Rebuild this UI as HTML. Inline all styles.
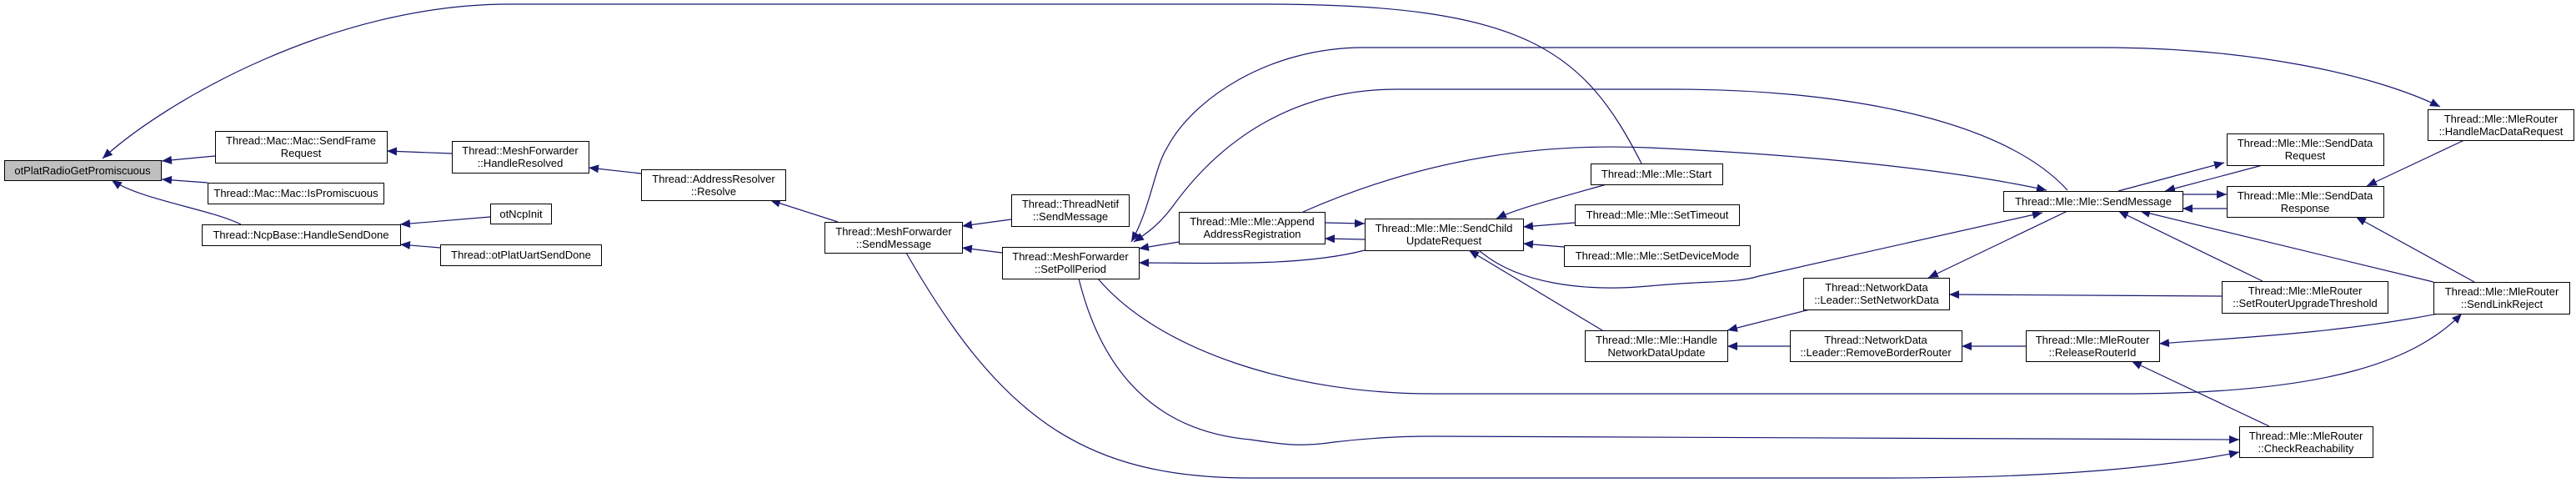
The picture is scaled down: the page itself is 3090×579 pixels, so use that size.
<!DOCTYPE html>
<html><head><meta charset="utf-8"><style>
html,body{margin:0;padding:0;background:#fff}
svg{display:block}
text{font-family:"Liberation Sans",sans-serif;font-size:13px;fill:#000}
</style></head><body>
<svg width="3090" height="579" viewBox="0 0 3090 579" xmlns="http://www.w3.org/2000/svg">
<defs>
<marker id="a" markerUnits="userSpaceOnUse" markerWidth="14" markerHeight="12" refX="12" refY="5" orient="auto">
<polygon points="0,0 12,5 0,10" fill="#191970"/>
</marker>
<marker id="s" markerUnits="userSpaceOnUse" markerWidth="14" markerHeight="12" refX="0" refY="5" orient="auto">
<polygon points="12,0 0,5 12,10" fill="#191970"/>
</marker>
</defs>
<g fill="none" stroke="#191970" stroke-width="1.2" marker-end="url(#a)">
<path d="M1969,196 C1900,60 1830,5 1518,5 L611,5 C400,5 200,120 123,190"/>
<path d="M258,187 L194,193"/>
<path d="M249,219 L194,215"/>
<path d="M289,269 C250,250 170,240 134,216"/>
<path d="M542,184 L464,181"/>
<path d="M769,208 L706,201"/>
<path d="M1005,266 L924,240"/>
<path d="M1213,263 L1154,271"/>
<path d="M1202,303 L1154,297"/>
<path d="M588,260 L480,269"/>
<path d="M528,297 L480,293"/>
<path marker-start="url(#s)" d="M1357,290 C1380,250 1385,200 1400,177 C1430,120 1520,57 1636,57 L2523,57 C2700,57 2850,90 2927,128"/>
<path d="M2480,228 C2400,140 2200,107 2008,107 L1675,107 C1560,107 1470,160 1407,247 C1390,270 1375,280 1360,290"/>
<path d="M1563,254 C1720,185 1860,172 1977,177 C2180,186 2350,205 2455,228"/>
<path d="M1927,221 C1860,240 1820,250 1795,262"/>
<path d="M1889,267 L1827,272"/>
<path d="M1876,296 L1827,292"/>
<path d="M1589,267 L1637,268"/>
<path d="M1637,287 L1589,286"/>
<path d="M1637,300 C1560,320 1450,315 1366,315"/>
<path d="M1414,290 L1366,298"/>
<path d="M1774,300 C1820,340 1900,350 1977,343 C2050,336 2080,340 2110,331 L2450,255"/>
<path d="M2480,253 L2313,333"/>
<path d="M2171,371 L2072,396"/>
<path d="M1922,396 L1762,300"/>
<path d="M2665,355 L2338,353"/>
<path d="M2714,337 L2541,253"/>
<path d="M2919,338 L2567,253"/>
<path d="M2968,338 L2826,260"/>
<path d="M2541,229 L2668,195"/>
<path d="M2714,198 L2597,229"/>
<path d="M2618,233 L2671,233"/>
<path d="M2671,250 L2618,250"/>
<path d="M2956,168 L2839,223"/>
<path d="M2430,415 L2353,415"/>
<path d="M2147,415 L2072,415"/>
<path d="M2925,376 C2800,400 2680,405 2590,412"/>
<path d="M2722,511 L2557,433"/>
<path d="M1317,334 C1390,420 1550,472 1718,472 L2546,472 C2800,472 2900,430 2953,376"/>
<path d="M1294,334 C1330,480 1420,520 1500,527 C1540,533 1560,536 1600,530 C1650,524 1690,523 1718,523 L2686,527"/>
<path d="M1087,303 C1200,500 1300,573 1500,573 L2262,573 C2500,573 2620,555 2686,542"/>
</g>
<g stroke="#000" stroke-width="1" fill="#fff">
<rect x="5.5" y="192.5" width="188" height="24" fill="#bfbfbf"/>
<rect x="258.5" y="157.5" width="206" height="38"/>
<rect x="249.5" y="219.5" width="211" height="25"/>
<rect x="242.5" y="269.5" width="238" height="25"/>
<rect x="542.5" y="169.5" width="164" height="38"/>
<rect x="588.5" y="244.5" width="73" height="24"/>
<rect x="528.5" y="293.5" width="193" height="25"/>
<rect x="769.5" y="203.5" width="173" height="37"/>
<rect x="989.5" y="266.5" width="165" height="37"/>
<rect x="1213.5" y="233.5" width="141" height="38"/>
<rect x="1202.5" y="296.5" width="164" height="38"/>
<rect x="1414.5" y="254.5" width="175" height="38"/>
<rect x="1637.5" y="262.5" width="190" height="38"/>
<rect x="1908.5" y="196.5" width="158" height="25"/>
<rect x="1889.5" y="245.5" width="197" height="25"/>
<rect x="1876.5" y="294.5" width="223" height="25"/>
<rect x="1901.5" y="396.5" width="171" height="37"/>
<rect x="2163.5" y="333.5" width="175" height="38"/>
<rect x="2147.5" y="396.5" width="206" height="37"/>
<rect x="2430.5" y="396.5" width="160" height="37"/>
<rect x="2403.5" y="229.5" width="215" height="24"/>
<rect x="2671.5" y="160.5" width="188" height="38"/>
<rect x="2671.5" y="223.5" width="188" height="37"/>
<rect x="2912.5" y="131.5" width="175" height="37"/>
<rect x="2665.5" y="337.5" width="199" height="38"/>
<rect x="2919.5" y="338.5" width="163" height="38"/>
<rect x="2686.5" y="511.5" width="160" height="37"/>
</g>
<g text-anchor="middle">
<text x="99" y="209">otPlatRadioGetPromiscuous</text>
<text x="361" y="173">Thread::Mac::Mac::SendFrame</text><text x="361" y="188">Request</text>
<text x="355" y="236">Thread::Mac::Mac::IsPromiscuous</text>
<text x="361" y="286">Thread::NcpBase::HandleSendDone</text>
<text x="624" y="185">Thread::MeshForwarder</text><text x="624" y="200">::HandleResolved</text>
<text x="625" y="261">otNcpInit</text>
<text x="625" y="310">Thread::otPlatUartSendDone</text>
<text x="856" y="219">Thread::AddressResolver</text><text x="856" y="234">::Resolve</text>
<text x="1072" y="282">Thread::MeshForwarder</text><text x="1072" y="297">::SendMessage</text>
<text x="1284" y="249">Thread::ThreadNetif</text><text x="1284" y="264">::SendMessage</text>
<text x="1284" y="312">Thread::MeshForwarder</text><text x="1284" y="327">::SetPollPeriod</text>
<text x="1502" y="270">Thread::Mle::Mle::Append</text><text x="1502" y="285">AddressRegistration</text>
<text x="1732" y="278">Thread::Mle::Mle::SendChild</text><text x="1732" y="293">UpdateRequest</text>
<text x="1987" y="213">Thread::Mle::Mle::Start</text>
<text x="1988" y="262">Thread::Mle::Mle::SetTimeout</text>
<text x="1988" y="311">Thread::Mle::Mle::SetDeviceMode</text>
<text x="1987" y="412">Thread::Mle::Mle::Handle</text><text x="1987" y="427">NetworkDataUpdate</text>
<text x="2251" y="349">Thread::NetworkData</text><text x="2251" y="364">::Leader::SetNetworkData</text>
<text x="2250" y="412">Thread::NetworkData</text><text x="2250" y="427">::Leader::RemoveBorderRouter</text>
<text x="2510" y="412">Thread::Mle::MleRouter</text><text x="2510" y="427">::ReleaseRouterId</text>
<text x="2511" y="246">Thread::Mle::Mle::SendMessage</text>
<text x="2765" y="176">Thread::Mle::Mle::SendData</text><text x="2765" y="191">Request</text>
<text x="2765" y="239">Thread::Mle::Mle::SendData</text><text x="2765" y="254">Response</text>
<text x="3000" y="147">Thread::Mle::MleRouter</text><text x="3000" y="162">::HandleMacDataRequest</text>
<text x="2765" y="353">Thread::Mle::MleRouter</text><text x="2765" y="368">::SetRouterUpgradeThreshold</text>
<text x="3001" y="354">Thread::Mle::MleRouter</text><text x="3001" y="369">::SendLinkReject</text>
<text x="2766" y="527">Thread::Mle::MleRouter</text><text x="2766" y="542">::CheckReachability</text>
</g>
</svg>
</body></html>
